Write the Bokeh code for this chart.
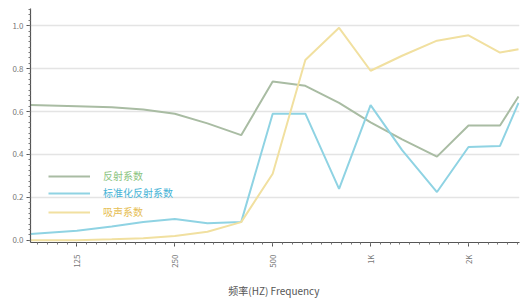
import math
from bokeh.plotting import figure
from bokeh.models import (FixedTicker, Legend, LegendItem, Range1d, CustomJSTickFormatter)
from bokeh.embed import file_html
from bokeh.resources import INLINE

# ---- data ----
freqs = [90, 125, 160, 200, 250, 315, 400, 500, 630, 800, 1000, 1250, 1600, 2000, 2500, 2850]
reflect = [0.63, 0.625, 0.62, 0.61, 0.59, 0.545, 0.49, 0.74, 0.72, 0.64, 0.55, 0.47, 0.39, 0.535, 0.535, 0.67]
norm_reflect = [0.03, 0.045, 0.065, 0.085, 0.10, 0.08, 0.085, 0.59, 0.59, 0.24, 0.63, 0.42, 0.225, 0.435, 0.44, 0.64]
absorb = [0.0, 0.0, 0.005, 0.01, 0.02, 0.04, 0.085, 0.31, 0.84, 0.99, 0.79, 0.86, 0.93, 0.955, 0.875, 0.89]

series_names = ["反射系数", "标准化反射系数", "吸声系数"]
x_ticks = [125, 250, 500, 1000, 2000]
x_tick_labels = {1000: "1K", 2000: "2K"}
y_ticks = [0.0, 0.2, 0.4, 0.6, 0.8, 1.0]

line_colors = ["#a9bca3", "#8fd3e3", "#f1e0a0"]
text_colors = ["#8cc47f", "#45b3d6", "#e6be55"]
FONT = "Noto Sans CJK SC"

p = figure(width=522, height=300, x_axis_type="log",
           x_range=Range1d(90, 2870), y_range=Range1d(-0.01, 1.08),
           output_backend="svg", toolbar_location=None,
           min_border_left=30, min_border_right=3, min_border_top=8,
           min_border_bottom=0)
p.outline_line_color = None
p.background_fill_color = "white"

r1 = p.line(freqs, reflect, line_color=line_colors[0], line_width=2)
r2 = p.line(freqs, norm_reflect, line_color=line_colors[1], line_width=2)
r3 = p.line(freqs, absorb, line_color=line_colors[2], line_width=2)

# grid
p.xgrid.visible = False
p.ygrid.ticker = FixedTicker(ticks=[0.2, 0.4, 0.6, 0.8, 1.0])
p.ygrid.grid_line_color = "#e4e4e4"
p.ygrid.grid_line_width = 1.5

# x axis
minor_x = [125 * 2 ** (k / 10) for k in range(-5, 46)]
p.xaxis.ticker = FixedTicker(ticks=x_ticks, minor_ticks=minor_x)
p.xaxis.major_label_overrides = x_tick_labels
p.xaxis.major_label_orientation = math.pi / 2
p.xaxis.axis_label = "频率(HZ)  Frequency"
p.xaxis.axis_label_text_font = FONT
p.xaxis.axis_label_text_font_style = "normal"
p.xaxis.axis_label_text_font_size = "10px"
p.xaxis.axis_label_text_color = "#555555"
p.xaxis.axis_label_standoff = 12

# y axis
minor_y = [i * 0.025 for i in range(0, 44)]
p.yaxis.ticker = FixedTicker(ticks=y_ticks, minor_ticks=minor_y)
p.yaxis.formatter = CustomJSTickFormatter(code="return tick.toFixed(1);")

for ax in (p.xaxis[0], p.yaxis[0]):
    ax.axis_line_color = "#555555"
    ax.axis_line_width = 1.2
    ax.major_tick_line_color = "#555555"
    ax.minor_tick_line_color = "#777777"
    ax.major_tick_in = 0
    ax.major_tick_out = 4
    ax.minor_tick_in = 0
    ax.minor_tick_out = 2
    ax.major_label_text_font = FONT
    ax.major_label_text_font_size = "8px"
    ax.major_label_text_color = "#777777"
    ax.major_label_standoff = 3
p.xaxis.major_label_standoff = 8

# legends: one per series so that each label can carry its own colour
renderers = [r1, r2, r3]
ys = [59, 42, 23]
for name, r, col, yy in zip(series_names, renderers, text_colors, ys):
    lg = Legend(items=[LegendItem(label=name, renderers=[r])],
                location=(18, yy), orientation="vertical",
                padding=0, margin=0, spacing=0,
                glyph_width=42, glyph_height=12, label_height=12,
                label_standoff=13,
                label_text_font=FONT, label_text_font_size="10px",
                label_text_color=col,
                background_fill_alpha=0, border_line_color=None)
    p.add_layout(lg)

open("out.html", "w").write(file_html(p, INLINE))
